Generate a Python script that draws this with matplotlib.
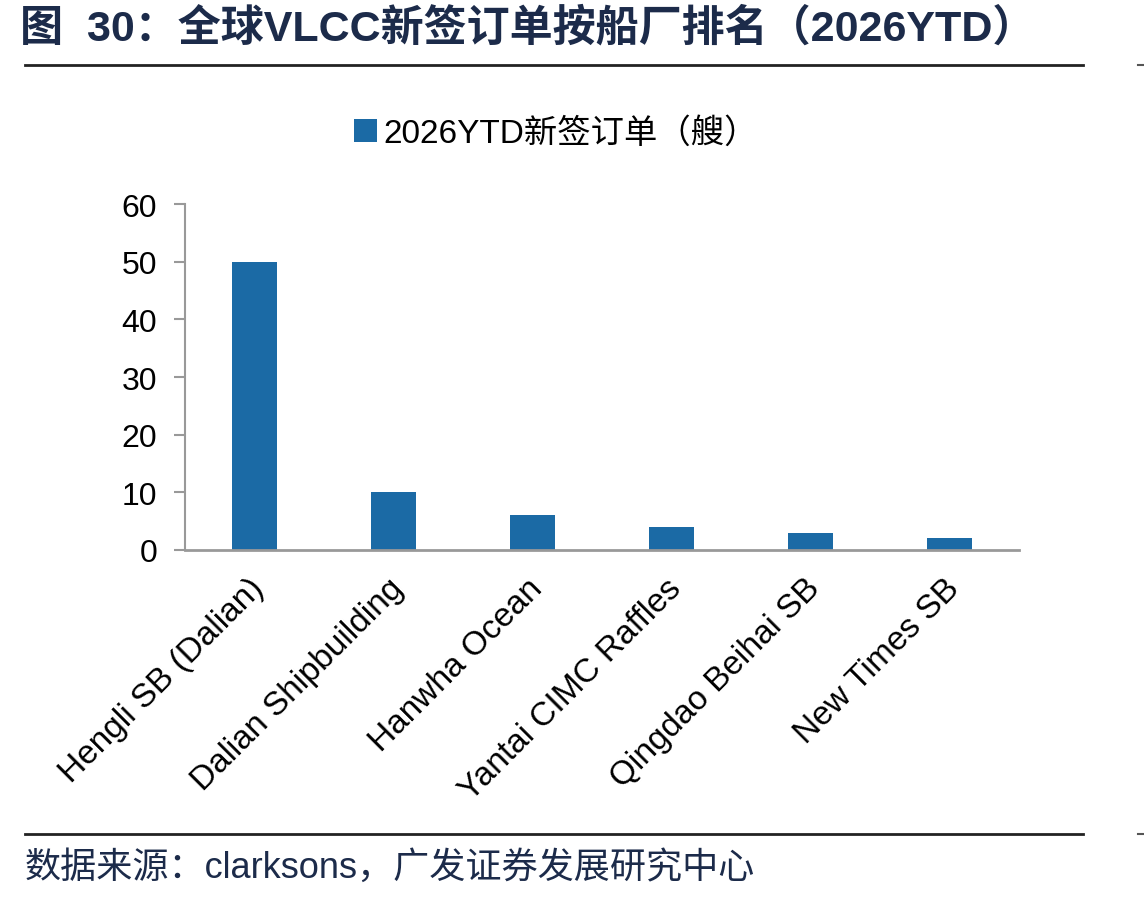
import matplotlib
matplotlib.use("Agg")
import matplotlib.pyplot as plt
from matplotlib.lines import Line2D
import matplotlib.transforms as mtransforms

categories = ["Hengli SB (Dalian)", "Dalian Shipbuilding", "Hanwha Ocean",
              "Yantai CIMC Raffles", "Qingdao Beihai SB", "New Times SB"]
values = [50, 10, 6, 4, 3, 2]
series_name = "2026YTD新签订单（艘）"
yticks = [0, 10, 20, 30, 40, 50, 60]
title = "图  30：全球VLCC新签订单按船厂排名（2026YTD）"
source = "数据来源：clarksons，广发证券发展研究中心"

FAM = ["Liberation Sans", "Noto Sans CJK SC", "DejaVu Sans"]
plt.rcParams["font.family"] = FAM

W, H = 1144, 903
fig = plt.figure(figsize=(W / 100, H / 100), dpi=100)

ax = fig.add_axes([185 / W, 1 - 551 / H, (1019 - 185) / W, (551 - 205) / H])
bar_color = "#1b6aa5"
x = list(range(len(categories)))
ax.bar(x, values, width=0.33, color=bar_color, label=series_name, zorder=2)
ax.set_xlim(-0.5, len(categories) - 0.5)
ax.set_ylim(0, 60)
ax.set_yticks(yticks)
ax.set_yticklabels([str(v) for v in yticks], fontsize=23)
ax.set_xticks(x)
ax.set_xticklabels(categories, rotation=45, ha="right", va="top",
                   rotation_mode="anchor", fontsize=24)
ax.tick_params(axis="x", length=0, pad=16)
ax.tick_params(axis="y", length=8, width=1.5, color="#999999", pad=12)
for s in ["top", "right"]:
    ax.spines[s].set_visible(False)
ax.spines["left"].set_color("#999999")
ax.spines["bottom"].set_color("#999999")
ax.spines["left"].set_linewidth(1.5)
ax.spines["bottom"].set_linewidth(2)

offset = mtransforms.ScaledTranslation(-6 / 100, 0, fig.dpi_scale_trans)
for lab in ax.get_xticklabels():
    lab.set_transform(lab.get_transform() + offset)

fig.legend(loc="center", bbox_to_anchor=(556 / W, 1 - 134 / H),
           frameon=False, fontsize=24, handlelength=0.7, handleheight=0.7,
           handletextpad=0.2)

# title
fig.text(20 / W, 1 - 29 / H, title, fontsize=31, fontweight="bold",
         color="#1c2b4a", ha="left", va="center")
# rules
fig.add_artist(Line2D([25 / W, 1083 / W], [1 - 66 / H, 1 - 66 / H],
                      color="#222222", lw=2))
fig.add_artist(Line2D([25 / W, 1083 / W], [1 - 835 / H, 1 - 835 / H],
                      color="#222222", lw=2))
fig.add_artist(Line2D([1138 / W, 1143 / W], [1 - 66 / H, 1 - 66 / H],
                      color="#555555", lw=1.5))
fig.add_artist(Line2D([1138 / W, 1143 / W], [1 - 835 / H, 1 - 835 / H],
                      color="#555555", lw=1.5))
# source
fig.text(25 / W, 1 - 868 / H, source, fontsize=26, color="#1c2b4a",
         ha="left", va="center")

fig.savefig("out.png", dpi=100)
